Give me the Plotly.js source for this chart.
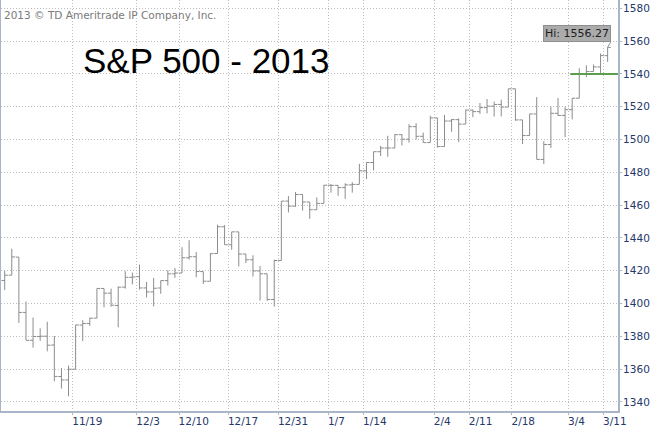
<!DOCTYPE html>
<html>
<head>
<meta charset="utf-8">
<script src="https://cdn.plot.ly/plotly-3.0.1.min.js"></script>
<style>
html,body{margin:0;padding:0;background:#fff;}
#chart{width:650px;height:426px;}
</style>
</head>
<body>
<div id="chart"></div>
<script>
// Trading days shown (Nov 5 2012 .. Mar 11 2013)
const dates = [
 "2012-11-05","2012-11-06","2012-11-07","2012-11-08","2012-11-09","2012-11-12","2012-11-13","2012-11-14","2012-11-15","2012-11-16",
 "2012-11-19","2012-11-20","2012-11-21","2012-11-23","2012-11-26","2012-11-27","2012-11-28","2012-11-29","2012-11-30",
 "2012-12-03","2012-12-04","2012-12-05","2012-12-06","2012-12-07","2012-12-10","2012-12-11","2012-12-12","2012-12-13","2012-12-14",
 "2012-12-17","2012-12-18","2012-12-19","2012-12-20","2012-12-21","2012-12-24","2012-12-26","2012-12-27","2012-12-28","2012-12-31",
 "2013-01-02","2013-01-03","2013-01-04","2013-01-07","2013-01-08","2013-01-09","2013-01-10","2013-01-11","2013-01-14","2013-01-15",
 "2013-01-16","2013-01-17","2013-01-18","2013-01-22","2013-01-23","2013-01-24","2013-01-25","2013-01-28","2013-01-29","2013-01-30",
 "2013-01-31","2013-02-01","2013-02-04","2013-02-05","2013-02-06","2013-02-07","2013-02-08","2013-02-11","2013-02-12","2013-02-13",
 "2013-02-14","2013-02-15","2013-02-19","2013-02-20","2013-02-21","2013-02-22","2013-02-25","2013-02-26","2013-02-27","2013-02-28",
 "2013-03-01","2013-03-04","2013-03-05","2013-03-06","2013-03-07","2013-03-08","2013-03-11"
];
const opens = [
 1414.02,1417.26,1428.27,1394.53,1377.55,1379.86,1380.03,1374.64,1355.41,1353.36,
 1359.88,1386.82,1387.79,1391.03,1409.15,1406.29,1398.77,1409.96,1415.95,
 1416.34,1409.46,1407.05,1409.43,1413.95,1418.07,1418.55,1427.84,1428.48,1419.45,
 1413.54,1430.47,1446.79,1435.81,1443.67,1430.15,1426.66,1419.83,1418.10,1402.43,
 1426.19,1462.42,1459.37,1466.47,1461.89,1457.15,1461.02,1472.12,1472.05,1470.67,
 1472.33,1472.63,1480.95,1485.98,1492.56,1494.81,1494.82,1502.96,1500.18,1507.84,
 1501.96,1498.11,1513.17,1495.71,1511.29,1512.12,1509.39,1517.93,1517.01,1519.43,
 1520.33,1521.38,1519.79,1530.94,1511.95,1502.42,1515.60,1487.85,1496.94,1515.99,
 1514.68,1518.20,1525.20,1539.79,1541.46,1544.26,1551.15
];
const highs = [
 1419.90,1433.38,1428.27,1401.23,1391.39,1384.87,1388.81,1380.13,1360.62,1362.03,
 1386.89,1389.77,1391.25,1409.16,1409.15,1409.01,1410.31,1419.70,1418.86,
 1423.73,1413.14,1415.56,1413.95,1420.34,1421.64,1434.27,1438.59,1431.36,1419.45,
 1430.67,1448.00,1447.75,1443.70,1443.67,1430.15,1429.42,1422.80,1418.10,1426.74,
 1462.43,1465.47,1467.94,1466.47,1461.89,1464.73,1472.30,1472.75,1472.05,1473.31,
 1473.96,1485.16,1485.98,1492.56,1496.13,1502.27,1503.26,1503.23,1509.35,1509.94,
 1504.19,1514.41,1513.17,1514.96,1512.53,1512.90,1518.31,1518.31,1522.29,1524.69,
 1523.14,1524.24,1530.94,1530.94,1511.95,1515.64,1525.84,1498.99,1520.08,1525.34,
 1519.99,1525.27,1543.47,1545.25,1545.78,1552.48,1556.27
];
const lows = [
 1408.13,1417.26,1388.14,1377.51,1373.03,1377.19,1370.78,1352.50,1348.05,1343.35,
 1359.88,1377.04,1386.39,1391.03,1397.68,1398.03,1385.43,1409.04,1411.63,
 1408.46,1403.65,1398.23,1405.93,1410.90,1415.64,1418.55,1426.76,1416.00,1411.88,
 1413.54,1430.47,1435.80,1432.82,1422.58,1424.66,1416.43,1401.80,1401.58,1398.11,
 1426.19,1455.53,1458.99,1456.62,1451.64,1457.15,1461.02,1467.58,1465.69,1463.76,
 1467.60,1472.63,1475.81,1481.16,1489.90,1489.46,1494.82,1496.33,1498.09,1500.11,
 1498.11,1498.11,1495.02,1495.71,1504.71,1498.49,1509.39,1513.61,1515.61,1515.93,
 1514.02,1514.14,1519.79,1511.41,1497.29,1502.42,1487.85,1485.01,1494.88,1514.46,
 1501.48,1512.29,1525.20,1538.11,1541.46,1539.63,1547.36
];
const closes = [
 1417.26,1428.39,1394.53,1377.51,1379.85,1380.03,1374.53,1355.49,1353.33,1359.88,
 1386.89,1387.81,1391.03,1409.15,1406.29,1398.94,1409.93,1415.95,1416.18,
 1409.46,1407.05,1409.28,1413.94,1418.07,1418.55,1427.84,1428.48,1419.45,1413.58,
 1430.36,1446.79,1435.81,1443.69,1430.15,1426.66,1419.83,1418.10,1402.43,1426.19,
 1462.42,1459.37,1466.47,1461.89,1457.15,1461.02,1472.12,1472.05,1470.68,1472.34,
 1472.63,1480.94,1485.98,1492.56,1494.81,1494.82,1502.96,1500.18,1507.84,1501.96,
 1498.11,1513.17,1495.71,1511.29,1512.12,1509.39,1517.93,1517.01,1519.43,1520.33,
 1521.38,1519.79,1530.94,1511.95,1502.42,1515.60,1487.85,1496.94,1515.99,1514.68,
 1518.20,1525.20,1539.79,1541.46,1544.26,1551.18,1556.22
];
// X-axis tick labels and their positions (in trading-day index units, between bars)
const tickLabels = ["11/19","12/3","12/10","12/17","12/31","1/7","1/14","2/4","2/11","2/18","3/4","3/11"];
const tickIndex  = [9.59,18.62,24.58,31.54,38.59,45.64,50.58,60.55,65.49,71.51,79.49,84.43];
// Y ticks
const yTicks = [1340,1360,1380,1400,1420,1440,1460,1480,1500,1520,1540,1560,1580];
// Reference line and high label
const supportLevel = 1540;
const supportFromIndex = 79.73;
const hiLabel = "Hi: " + Math.max(...highs).toFixed(2);

const xIdx = dates.map((d, i) => i);
const hiIdx = highs.indexOf(Math.max(...highs));

const barColor = '#8c8c8c';
const trace = {
  type: 'ohlc',
  x: xIdx,
  open: opens, high: highs, low: lows, close: closes,
  text: dates,
  hoverinfo: 'text',
  tickwidth: 0.45,
  increasing: {line: {color: barColor, width: 1}},
  decreasing: {line: {color: barColor, width: 1}},
  showlegend: false
};

const axisLine = '#a9b5c9';
const gridCol = '#bdbdbd';
const labelFont = {family: 'DejaVu Sans, Verdana, sans-serif', size: 10.5, color: '#25386a'};

const layout = {
  width: 650, height: 426,
  margin: {l: 1, r: 32, t: 0, b: 15, pad: 0},
  paper_bgcolor: '#ffffff',
  plot_bgcolor: '#ffffff',
  showlegend: false,
  xaxis: {
    type: 'linear',
    range: [-0.52, 86.46],
    tickmode: 'array',
    tickvals: tickIndex,
    ticktext: tickLabels,
    ticks: 'outside', ticklen: 2, tickcolor: axisLine, tickwidth: 1,
    ticklabelposition: 'outside right',
    ticklabelstandoff: -1,
    ticklabelshift: -2,
    tickfont: labelFont,
    showgrid: true, gridcolor: gridCol, griddash: '1px,2px', gridwidth: 1,
    showline: true, linecolor: axisLine, linewidth: 2,
    zeroline: false,
    rangeslider: {visible: false},
    fixedrange: true
  },
  yaxis: {
    side: 'right',
    range: [1334.4, 1585.1],
    tickmode: 'array',
    tickvals: yTicks,
    ticktext: yTicks.map(String),
    ticks: 'outside', ticklen: 2, tickcolor: axisLine, tickwidth: 1,
    ticklabelstandoff: -1,
    tickfont: labelFont,
    showgrid: true, gridcolor: gridCol, griddash: '1px,2px', gridwidth: 1,
    showline: true, linecolor: axisLine, linewidth: 2, mirror: true,
    zeroline: false,
    fixedrange: true
  },
  shapes: [{
    type: 'line', xref: 'x', yref: 'y',
    x0: supportFromIndex, x1: 86.46, y0: supportLevel, y1: supportLevel,
    line: {color: '#5c9e4c', width: 2}
  }],
  annotations: [
    {
      xref: 'paper', yref: 'paper', x: 0.002, y: 1 - 14.5/411,
      xanchor: 'left', yanchor: 'middle', showarrow: false,
      text: '2013 © TD Ameritrade IP Company, Inc.',
      font: {family: 'DejaVu Sans, Verdana, sans-serif', size: 10.5, color: '#7a7a7a'}
    },
    {
      xref: 'paper', yref: 'paper', x: (81 - 1)/617, y: 1 - 60/411,
      xanchor: 'left', yanchor: 'middle', showarrow: false,
      text: 'S&P 500 - 2013',
      font: {family: 'Liberation Sans, Arial, sans-serif', size: 35, color: '#000000'}
    },
    {
      xref: 'x', yref: 'y', x: hiIdx, y: highs[hiIdx],
      text: hiLabel,
      showarrow: true, arrowhead: 0, arrowwidth: 1, arrowcolor: '#8a8a8a',
      ax: 3, ay: -5, xanchor: 'right', yanchor: 'bottom',
      bgcolor: '#ababab', bordercolor: '#8f8f8f', borderwidth: 1, borderpad: 1,
      font: {family: 'DejaVu Sans, Verdana, sans-serif', size: 11, color: '#1e1e1e'}
    }
  ]
};

Plotly.newPlot('chart', [trace], layout, {displayModeBar: false, staticPlot: true});
</script>
</body>
</html>
